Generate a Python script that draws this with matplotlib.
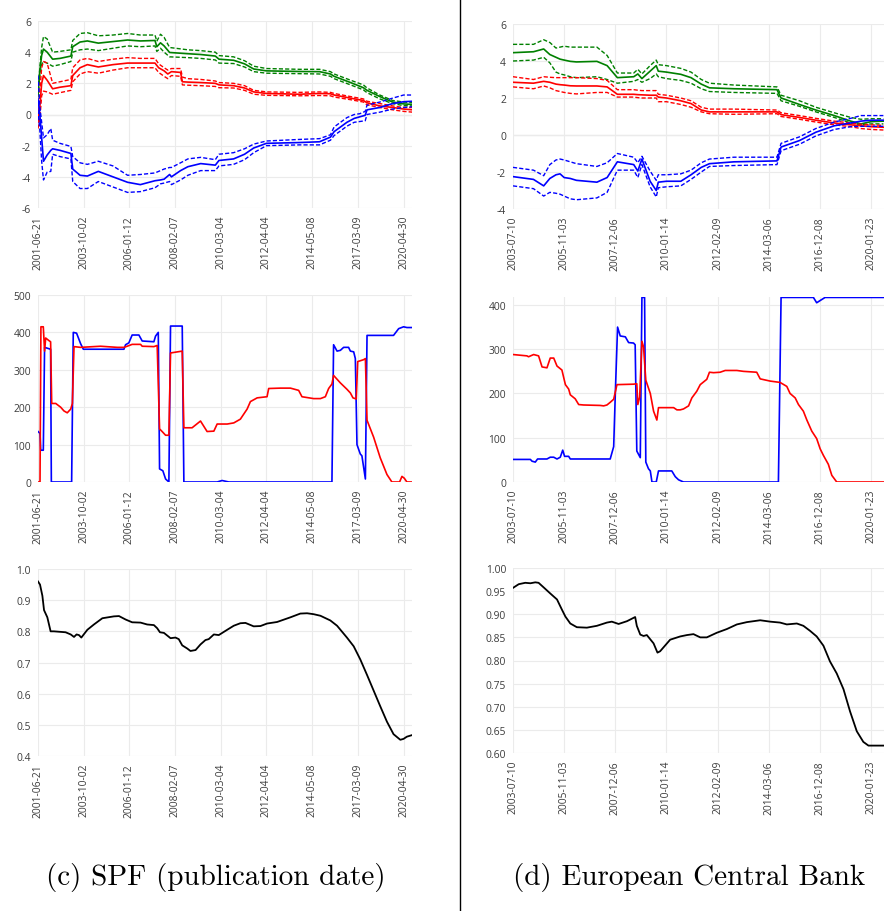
import matplotlib
matplotlib.use("Agg")
import matplotlib.pyplot as plt
from matplotlib.lines import Line2D

# ---------------- data: SPF (left column) ----------------
spf_dates = ["2001-06-21", "2003-10-02", "2006-01-12", "2008-02-07", "2010-03-04",
             "2012-04-04", "2014-05-08", "2017-03-09", "2020-04-30"]
spf_end = 204.6

spf_g_x = [0, 1, 2, 3, 5, 8, 12, 18, 19, 23, 27, 33, 41, 49, 56, 64, 65, 67, 69, 72, 82, 89, 97, 99,
           107, 113, 118, 125, 143, 154, 160, 162, 171, 178, 180, 187, 194, 200, 205]
spf_g_mid = [1.3, 2.8, 3.8, 4.2, 4.0, 3.55, 3.6, 3.75, 4.35, 4.65, 4.72, 4.58, 4.68, 4.78, 4.72, 4.75,
             4.35, 4.6, 4.4, 3.98, 3.9, 3.85, 3.75, 3.55, 3.48, 3.25, 2.92, 2.8, 2.76, 2.75, 2.6, 2.45,
             2.05, 1.72, 1.55, 1.15, 0.8, 0.68, 0.64]
spf_g_up = [1.5, 3.0, 4.3, 5.0, 4.85, 4.0, 4.05, 4.15, 4.75, 5.2, 5.25, 5.05, 5.1, 5.2, 5.1, 5.1, 4.7,
            5.15, 4.95, 4.3, 4.15, 4.1, 4.0, 3.78, 3.7, 3.45, 3.1, 2.95, 2.9, 2.9, 2.75, 2.6, 2.2, 1.9,
            1.7, 1.25, 0.9, 0.8, 0.75]
spf_g_lo = [1.1, 2.5, 3.2, 3.4, 3.3, 3.1, 3.2, 3.4, 4.0, 4.15, 4.2, 4.1, 4.25, 4.4, 4.35, 4.4, 4.05,
            4.25, 4.0, 3.7, 3.65, 3.6, 3.5, 3.3, 3.27, 3.05, 2.75, 2.65, 2.62, 2.6, 2.45, 2.3, 1.9,
            1.58, 1.4, 1.0, 0.7, 0.57, 0.55]

spf_r_x = [0, 1, 2, 3, 5, 8, 12, 18, 19, 23, 27, 33, 41, 49, 56, 64, 66, 69, 71, 73, 78, 79, 82, 89,
           97, 99, 107, 113, 118, 125, 143, 154, 160, 162, 171, 178, 180, 187, 194, 200, 205]
spf_r_mid = [-0.5, 0.5, 2.0, 2.5, 2.2, 1.65, 1.75, 1.85, 2.5, 3.0, 3.2, 3.05, 3.2, 3.3, 3.3, 3.3, 3.0,
             2.8, 2.6, 2.75, 2.7, 2.1, 2.08, 2.05, 2.0, 1.9, 1.85, 1.7, 1.45, 1.35, 1.3, 1.35, 1.33,
             1.25, 1.05, 0.9, 0.75, 0.55, 0.45, 0.35, 0.3]
spf_r_up = [-0.2, 1.5, 3.0, 3.4, 3.3, 2.0, 2.1, 2.25, 3.0, 3.5, 3.6, 3.4, 3.55, 3.65, 3.6, 3.6, 3.25,
            3.0, 2.85, 2.95, 2.95, 2.4, 2.3, 2.25, 2.15, 2.05, 2.0, 1.85, 1.55, 1.45, 1.42, 1.45, 1.42,
            1.35, 1.15, 1.0, 0.85, 0.7, 0.55, 0.45, 0.45]
spf_r_lo = [-0.9, -0.3, 1.2, 1.5, 1.45, 1.3, 1.4, 1.55, 2.1, 2.6, 2.75, 2.65, 2.85, 3.0, 3.0, 3.0, 2.7,
            2.45, 2.3, 2.5, 2.45, 1.9, 1.88, 1.85, 1.8, 1.72, 1.7, 1.55, 1.3, 1.23, 1.2, 1.22, 1.2,
            1.12, 0.95, 0.8, 0.62, 0.45, 0.3, 0.2, 0.15]

spf_b_x = [0, 1, 2, 3, 5, 7, 8, 12, 18, 19, 23, 27, 33, 41, 49, 56, 64, 67, 69, 72, 73, 78, 82, 89,
           97, 99, 107, 113, 118, 125, 143, 154, 160, 162, 169, 173, 176, 179, 180, 187, 194, 200, 205]
spf_b_mid = [1.0, 0.0, -1.5, -3.0, -2.6, -2.3, -2.2, -2.3, -2.5, -3.5, -3.9, -3.95, -3.65, -4.0, -4.35,
             -4.5, -4.25, -4.2, -4.15, -3.85, -4.0, -3.6, -3.35, -3.15, -3.25, -2.95, -2.85, -2.55,
             -2.15, -1.85, -1.8, -1.75, -1.45, -1.1, -0.5, -0.25, -0.15, -0.05, 0.3, 0.45, 0.7, 0.82,
             0.85]
spf_b_up = [2.5, 0.5, -0.5, -1.5, -1.3, -0.9, -1.65, -1.85, -2.05, -2.7, -3.1, -3.2, -3.0, -3.3, -3.9,
            -3.85, -3.75, -3.6, -3.5, -3.4, -3.4, -3.1, -2.85, -2.75, -2.9, -2.55, -2.45, -2.2, -1.9,
            -1.7, -1.6, -1.55, -1.3, -0.8, -0.2, 0.0, 0.05, 0.2, 0.6, 0.8, 1.05, 1.25, 1.25]
spf_b_lo = [0.3, -1.0, -3.0, -4.2, -3.7, -3.65, -2.55, -2.7, -2.85, -4.3, -4.75, -4.75, -4.3, -4.65,
            -5.0, -4.95, -4.7, -4.45, -4.4, -4.3, -4.5, -4.2, -3.9, -3.6, -3.6, -3.3, -3.2, -2.9,
            -2.45, -2.0, -1.95, -1.95, -1.65, -1.35, -0.75, -0.5, -0.45, -0.4, 0.0, 0.15, 0.35, 0.45,
            0.5]

spf_cnt_b_x = [0, 1.1, 1.5, 2.9, 3.6, 6.9, 7.3, 18.4, 19.3, 21.1, 23.3, 24.8, 47.0, 47.9, 49.7, 51.5,
               55.2, 57.0, 63.4, 64.3, 65.8, 66.5, 68.3, 69.8, 71.6, 72.5, 78.9, 79.8, 98.0, 100.7,
               104.4, 160.8, 161.7, 163.6, 165.4, 167.2, 169.9, 170.9, 172.7, 173.6, 174.5, 176.3,
               177.2, 179.1, 180.0, 194.5, 197.3, 200.0, 201.8, 204.6]
spf_cnt_b = [135, 130, 85, 85, 360, 355, 0, 0, 400, 398, 370, 355, 355, 367, 372, 393, 393, 377, 375,
             390, 400, 35, 30, 8, 0, 417, 417, 0, 0, 4, 0, 0, 367, 350, 352, 360, 360, 350, 348, 330,
             100, 75, 70, 8, 392, 392, 410, 415, 413, 413]
spf_cnt_r_x = [0, 1.1, 1.6, 2.9, 3.6, 4.2, 6.0, 6.9, 7.5, 9.7, 12.4, 14.2, 16.0, 17.9, 18.8, 19.7,
               23.3, 34.2, 43.4, 47.0, 48.8, 51.5, 56.1, 57.0, 63.4, 65.2, 66.5, 67.9, 69.8, 71.6,
               72.5, 78.9, 79.8, 84.3, 88.9, 92.5, 96.2, 98.0, 103.5, 107.1, 110.7, 114.4, 116.2,
               119.9, 125.3, 126.2, 132.6, 138.1, 142.6, 144.4, 150.8, 154.5, 157.2, 159.0, 160.8,
               161.7, 165.4, 169.0, 170.9, 172.3, 174.1, 174.9, 178.1, 179.1, 180.0, 183.6, 187.2,
               190.9, 193.6, 197.8, 199.1, 200.4, 201.8, 204.6]
spf_cnt_r = [0, 0, 415, 415, 350, 385, 378, 375, 210, 210, 200, 190, 185, 195, 210, 362, 360, 363,
             360, 360, 363, 368, 368, 363, 362, 365, 142, 135, 125, 125, 345, 350, 145, 145, 163, 135,
             136, 155, 155, 158, 168, 195, 215, 225, 228, 250, 251, 251, 245, 228, 223, 223, 228, 250,
             262, 285, 265, 248, 238, 225, 222, 322, 327, 330, 165, 120, 65, 20, 0, 0, 15, 10, 0, 0]

spf_ratio_x = [0, 1.1, 2.4, 3.3, 5.1, 6.9, 8.7, 15.1, 17.9, 19.7, 21.1, 22.4, 23.7, 27.0, 30.6, 35.2,
               41.5, 44.3, 47.9, 51.5, 56.1, 59.7, 63.4, 65.2, 66.7, 68.9, 72.5, 75.2, 77.0, 78.9,
               81.6, 83.4, 86.2, 88.9, 91.6, 93.4, 96.2, 98.9, 103.5, 107.1, 110.7, 113.5, 118.0,
               121.7, 125.3, 130.8, 138.1, 143.5, 147.2, 150.8, 154.5, 159.9, 163.6, 169.0, 172.7,
               176.3, 180.0, 183.6, 187.2, 190.9, 194.5, 198.2, 200.0, 201.8, 204.6]
spf_ratio = [0.96, 0.95, 0.914, 0.868, 0.845, 0.80, 0.80, 0.797, 0.79, 0.782, 0.79, 0.788, 0.78,
             0.805, 0.822, 0.842, 0.848, 0.849, 0.838, 0.829, 0.828, 0.822, 0.82, 0.81, 0.797, 0.795,
             0.778, 0.78, 0.775, 0.755, 0.745, 0.737, 0.74, 0.758, 0.772, 0.775, 0.79, 0.788, 0.805,
             0.818, 0.826, 0.827, 0.816, 0.817, 0.825, 0.83, 0.845, 0.857, 0.858, 0.855, 0.85, 0.835,
             0.818, 0.78, 0.752, 0.71, 0.66, 0.61, 0.56, 0.51, 0.47, 0.452, 0.455, 0.462, 0.467]

# ---------------- data: ECB (right column) ----------------
ecb_dates = ["2003-07-10", "2005-11-03", "2007-12-06", "2010-01-14", "2012-02-09",
             "2014-03-06", "2016-12-08", "2020-01-23"]
ecb_end = 181.3

ecb_x = [0, 10, 15, 18, 21, 23, 25, 28, 31, 41, 46, 51, 59, 61, 63, 67, 70, 71, 75, 82, 87, 92, 96,
         108, 129, 131, 140, 148, 157, 165, 170, 175, 181]
ecb_g_mid = [4.45, 4.5, 4.65, 4.35, 4.2, 4.1, 4.05, 3.98, 3.95, 3.98, 3.75, 3.1, 3.15, 3.3, 3.05, 3.45,
             3.75, 3.45, 3.4, 3.28, 3.1, 2.75, 2.55, 2.5, 2.45, 2.0, 1.65, 1.35, 1.05, 0.75, 0.6, 0.72,
             0.75]
ecb_g_up = [4.9, 4.9, 5.15, 5.0, 4.7, 4.75, 4.8, 4.75, 4.75, 4.75, 4.3, 3.35, 3.35, 3.55, 3.3, 3.75,
            4.05, 3.8, 3.75, 3.6, 3.4, 3.0, 2.8, 2.7, 2.6, 2.15, 1.85, 1.5, 1.2, 0.95, 0.85, 0.88, 0.88]
ecb_g_lo = [4.0, 4.05, 4.2, 3.9, 3.4, 3.3, 3.25, 3.15, 3.1, 3.15, 3.0, 2.8, 2.9, 3.0, 2.85, 3.05, 3.3,
            3.15, 3.05, 2.95, 2.8, 2.5, 2.35, 2.3, 2.25, 1.85, 1.55, 1.25, 0.95, 0.65, 0.55, 0.6, 0.6]
ecb_r_mid = [2.85, 2.8, 2.9, 2.85, 2.75, 2.72, 2.7, 2.66, 2.65, 2.65, 2.6, 2.2, 2.2, 2.18, 2.17, 2.15,
             2.15, 2.05, 2.0, 1.85, 1.7, 1.35, 1.25, 1.25, 1.25, 1.1, 0.95, 0.8, 0.65, 0.55, 0.5, 0.45,
             0.42]
ecb_r_up = [3.15, 3.0, 3.15, 3.12, 3.1, 3.1, 3.1, 3.1, 3.1, 3.05, 2.95, 2.45, 2.45, 2.42, 2.4, 2.4,
            2.4, 2.2, 2.15, 2.0, 1.85, 1.5, 1.4, 1.4, 1.35, 1.2, 1.05, 0.9, 0.75, 0.65, 0.58, 0.55, 0.52]
ecb_r_lo = [2.6, 2.5, 2.65, 2.55, 2.4, 2.35, 2.3, 2.25, 2.22, 2.3, 2.3, 2.05, 2.05, 2.02, 2.0, 2.0,
            2.0, 1.8, 1.8, 1.65, 1.5, 1.25, 1.15, 1.12, 1.15, 1.0, 0.85, 0.7, 0.55, 0.45, 0.35, 0.3,
            0.27]
ecb_b_mid = [-2.25, -2.4, -2.75, -2.35, -2.15, -2.1, -2.3, -2.35, -2.45, -2.55, -2.3, -1.45, -1.6,
             -1.95, -1.3, -2.5, -3.0, -2.55, -2.5, -2.5, -2.15, -1.75, -1.55, -1.45, -1.4, -0.65, -0.3,
             0.15, 0.5, 0.65, 0.75, 0.8, 0.8]
ecb_b_up = [-1.75, -1.9, -2.2, -1.6, -1.35, -1.3, -1.35, -1.45, -1.55, -1.7, -1.5, -1.0, -1.2, -1.5,
            -1.15, -1.95, -2.45, -2.15, -2.15, -2.1, -1.9, -1.5, -1.3, -1.2, -1.2, -0.45, -0.1, 0.35,
            0.7, 0.9, 1.05, 1.05, 1.05]
ecb_b_lo = [-2.75, -2.9, -3.3, -3.1, -3.15, -3.2, -3.3, -3.45, -3.5, -3.4, -3.1, -1.9, -1.9, -2.3,
            -1.6, -2.8, -3.35, -2.85, -2.8, -2.75, -2.4, -2.0, -1.7, -1.65, -1.6, -0.85, -0.5, -0.05,
            0.3, 0.45, 0.47, 0.47, 0.47]

ecb_cnt_b_x = [0, 8.5, 9.3, 10.9, 12.0, 16.6, 18.2, 19.9, 21.5, 23.1, 24.3, 25.2, 27.2, 28.0, 47.5,
               49.2, 50.0, 51.1, 52.4, 54.9, 56.5, 58.9, 59.7, 60.5, 62.2, 63.0, 64.3, 64.9, 66.2,
               67.1, 67.9, 70.0, 71.1, 77.6, 79.3, 80.9, 83.3, 129.7, 131.0, 146.8, 148.4, 150.1,
               152.5, 181.3]
ecb_cnt_b = [51, 51, 47, 45, 52, 52, 56, 56, 52, 56, 72, 58, 58, 52, 52, 80, 200, 350, 330, 328, 315,
             314, 310, 70, 55, 417, 417, 45, 30, 25, 0, 0, 25, 25, 12, 5, 0, 0, 417, 417, 405, 410,
             417, 417]
ecb_cnt_r_x = [0, 6.8, 7.6, 10.1, 12.5, 14.2, 16.6, 18.2, 19.9, 21.5, 23.9, 25.6, 27.2, 28.0, 30.4,
               32.1, 34.5, 42.6, 44.3, 45.9, 47.5, 49.2, 50.8, 58.9, 60.5, 61.0, 61.9, 63.0, 63.8,
               64.9, 67.1, 68.7, 70.3, 71.1, 73.6, 78.5, 80.1, 81.7, 83.3, 85.8, 87.4, 89.8, 91.5,
               94.7, 96.0, 98.0, 101.2, 103.7, 109.4, 112.6, 119.1, 120.8, 125.7, 130.5, 133.8, 135.4,
               137.9, 139.5, 141.9, 143.6, 146.0, 148.4, 150.1, 151.7, 154.1, 155.8, 158.2, 181.3]
ecb_cnt_r = [288, 285, 283, 288, 285, 260, 258, 280, 280, 262, 253, 220, 210, 197, 188, 175, 174, 173,
             172, 174, 180, 187, 220, 221, 222, 175, 192, 318, 305, 230, 200, 160, 140, 168, 168, 168,
             163, 163, 165, 172, 190, 205, 220, 232, 248, 247, 248, 252, 252, 250, 248, 233, 228, 225,
             216, 200, 190, 175, 160, 140, 115, 98, 75, 60, 40, 15, 0, 0]

ecb_ratio_x = [0, 2.8, 6.0, 8.5, 10.9, 12.5, 15.0, 18.2, 21.5, 23.9, 25.6, 28.0, 31.2, 36.1, 41.0,
               45.9, 48.3, 51.6, 55.7, 59.7, 60.5, 62.2, 63.8, 65.4, 68.7, 70.6, 71.9, 76.8, 81.7,
               85.0, 88.2, 91.5, 94.7, 99.6, 104.5, 109.4, 114.3, 120.8, 125.7, 130.5, 133.8, 138.7,
               141.9, 145.2, 148.4, 151.7, 154.9, 158.2, 161.5, 164.7, 168.0, 171.2, 173.7, 181.3]
ecb_ratio = [0.957, 0.965, 0.968, 0.967, 0.969, 0.968, 0.958, 0.945, 0.932, 0.91, 0.895, 0.88, 0.872,
             0.871, 0.875, 0.882, 0.884, 0.879, 0.885, 0.894, 0.875, 0.856, 0.853, 0.855, 0.837,
             0.817, 0.82, 0.845, 0.852, 0.855, 0.857, 0.85, 0.85, 0.86, 0.868, 0.878, 0.883, 0.887,
             0.884, 0.882, 0.878, 0.88, 0.875, 0.864, 0.852, 0.832, 0.798, 0.772, 0.738, 0.69, 0.647,
             0.624, 0.616, 0.616]

# ---------------- figure ----------------
W, H = 889, 912
fig = plt.figure(figsize=(W / 100, H / 100), dpi=100)

GRID = "#ebebeb"
TXT = "#3c3c3c"
TICKFONT = "Open Sans"


def make_ax(x0, x1, y0, y1):
    # pixel box -> figure fraction
    return fig.add_axes([x0 / W, 1 - y1 / H, (x1 - x0) / W, (y1 - y0) / H])


def style_ax(ax, dates, end, ylim, yticks, fmt):
    ax.set_xlim(0, end)
    ax.set_ylim(*ylim)
    ax.set_xticks([i * 25 for i in range(len(dates))])
    ax.set_xticklabels(dates, rotation=90)
    ax.set_yticks(yticks)
    ax.set_yticklabels([fmt.format(v) for v in yticks])
    for s in ax.spines.values():
        s.set_visible(False)
    ax.tick_params(length=0, labelsize=7.4, labelcolor=TXT, pad=5)
    for lab in ax.get_xticklabels() + ax.get_yticklabels():
        lab.set_fontfamily(TICKFONT)
    ax.grid(True, color=GRID, lw=0.8)
    ax.set_axisbelow(True)


def band(ax, x, mid, up, lo, color):
    ax.plot(x, mid, color=color, lw=1.2)
    ax.plot(x, up, color=color, lw=1.0, dashes=(3, 1.5))
    ax.plot(x, lo, color=color, lw=1.0, dashes=(3, 1.5))


# left column
ax = make_ax(38, 412, 22, 209)
style_ax(ax, spf_dates, spf_end, (-6, 6), [-6, -4, -2, 0, 2, 4, 6], "{:d}")
ax.axhline(0, color="#d9d9d9", lw=0.9, zorder=0)
band(ax, spf_g_x, spf_g_mid, spf_g_up, spf_g_lo, "green")
band(ax, spf_r_x, spf_r_mid, spf_r_up, spf_r_lo, "red")
band(ax, spf_b_x, spf_b_mid, spf_b_up, spf_b_lo, "blue")

ax = make_ax(38, 412, 296, 483)
style_ax(ax, spf_dates, spf_end, (0, 500), [0, 100, 200, 300, 400, 500], "{:d}")
ax.plot(spf_cnt_b_x, spf_cnt_b, color="blue", lw=1.2)
ax.plot(spf_cnt_r_x, spf_cnt_r, color="red", lw=1.2)

ax = make_ax(38, 412, 570, 757)
style_ax(ax, spf_dates, spf_end, (0.4, 1.0), [0.4, 0.5, 0.6, 0.7, 0.8, 0.9, 1.0], "{:.1f}")
ax.plot(spf_ratio_x, spf_ratio, color="black", lw=1.3)

# right column
ax = make_ax(513, 884, 25, 210)
style_ax(ax, ecb_dates, ecb_end, (-4, 6), [-4, -2, 0, 2, 4, 6], "{:d}")
ax.axhline(0, color="#d9d9d9", lw=0.9, zorder=0)
band(ax, ecb_x, ecb_g_mid, ecb_g_up, ecb_g_lo, "green")
band(ax, ecb_x, ecb_r_mid, ecb_r_up, ecb_r_lo, "red")
band(ax, ecb_x, ecb_b_mid, ecb_b_up, ecb_b_lo, "blue")

ax = make_ax(513, 884, 298, 483)
style_ax(ax, ecb_dates, ecb_end, (0, 418), [0, 100, 200, 300, 400], "{:d}")
ax.plot(ecb_cnt_b_x, ecb_cnt_b, color="blue", lw=1.2)
ax.plot(ecb_cnt_r_x, ecb_cnt_r, color="red", lw=1.2)

ax = make_ax(513, 884, 569, 754)
style_ax(ax, ecb_dates, ecb_end, (0.6, 1.0),
         [0.6, 0.65, 0.7, 0.75, 0.8, 0.85, 0.9, 0.95, 1.0], "{:.2f}")
ax.plot(ecb_ratio_x, ecb_ratio, color="black", lw=1.3)

# separator and captions
fig.add_artist(Line2D([459.5 / W, 459.5 / W], [0, 1], color="black", lw=1.0))
fig.text(216 / W, 1 - 878 / H, "(c) SPF (publication date)", family="cmr10", fontsize=21,
         ha="center", va="center")
fig.text(689 / W, 1 - 878 / H, "(d) European Central Bank", family="cmr10", fontsize=21,
         ha="center", va="center")

fig.savefig("out.png", dpi=100)
